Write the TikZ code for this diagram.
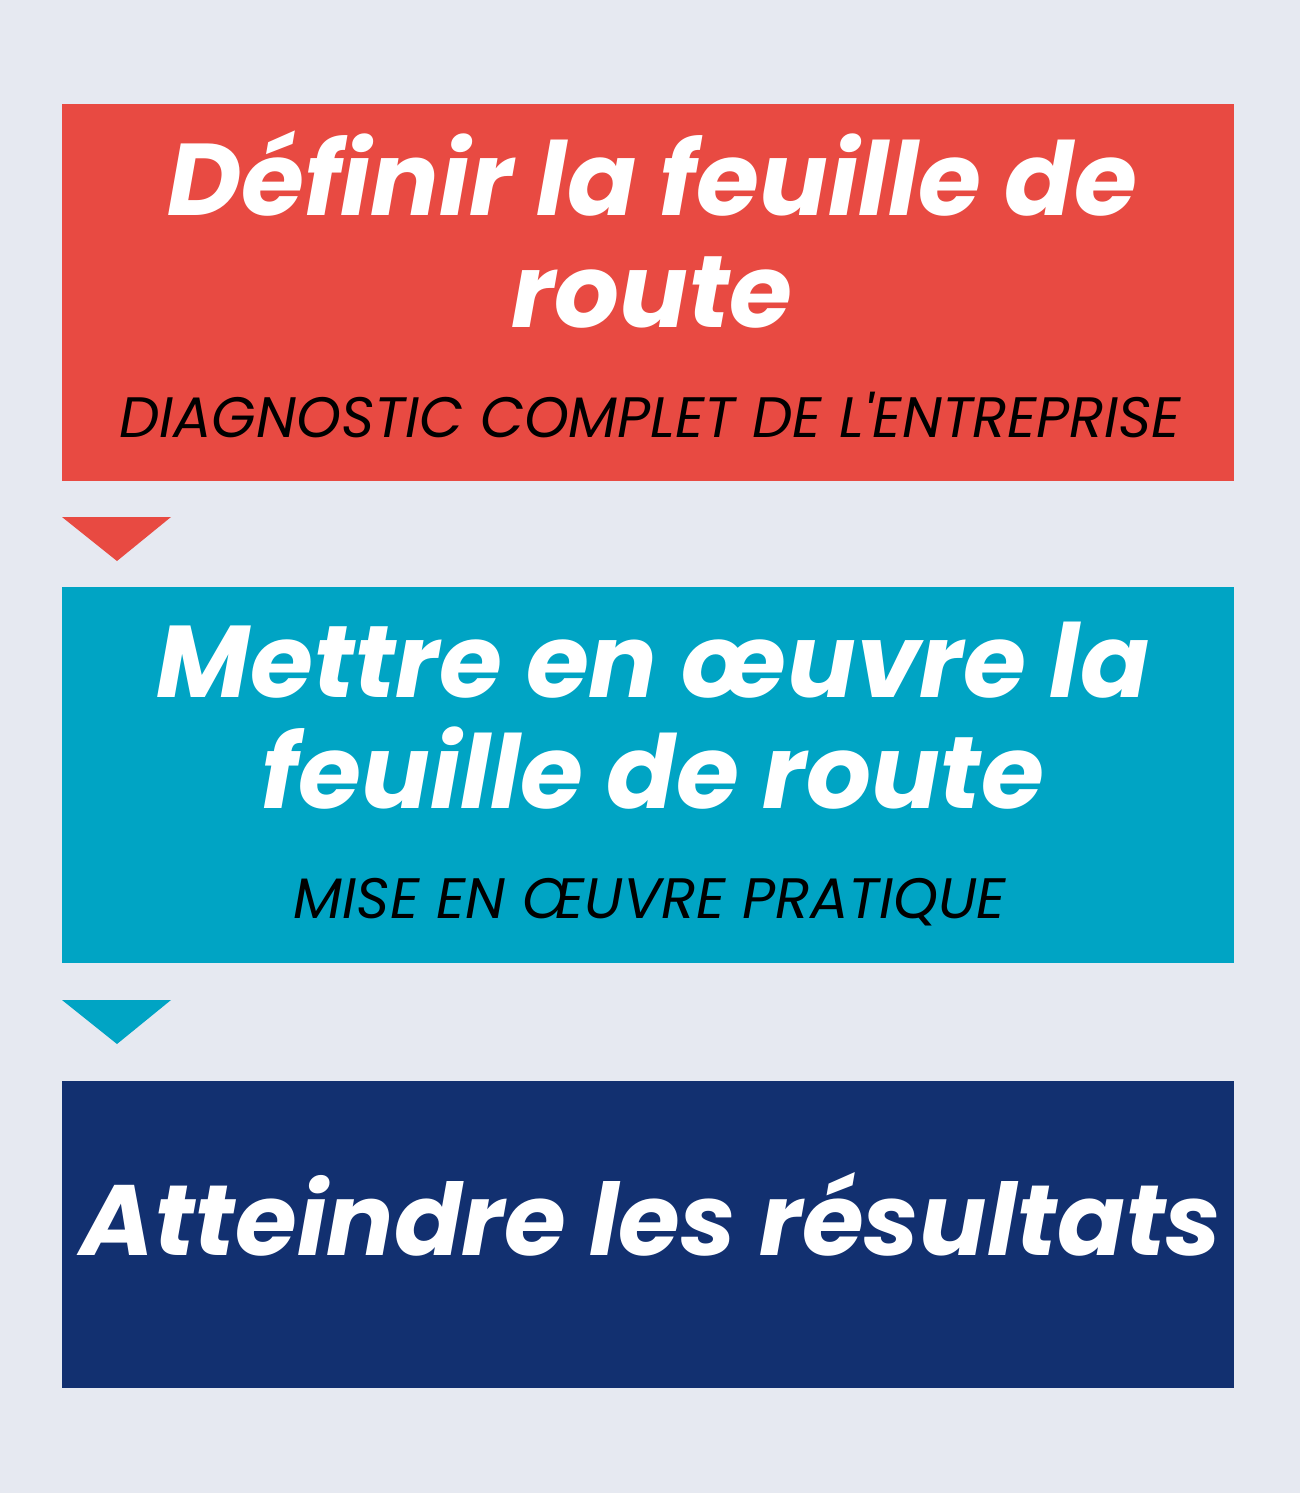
\documentclass[tikz,border=0pt]{standalone}
\usepackage{fontspec}
\setmainfont{Poppins}
\definecolor{bg}{HTML}{E6E9F1}
\definecolor{cred}{HTML}{E84A42}
\definecolor{cteal}{HTML}{00A4C4}
\definecolor{cnavy}{HTML}{123070}
\tikzset{
  title/.style={text=white, font=\fontsize{102}{110}\selectfont\bfseries\itshape, anchor=base, inner sep=0pt},
  subtitle/.style={text=black, font=\fontsize{57}{60}\selectfont\itshape, anchor=base, inner sep=0pt},
}
\begin{document}
\begin{tikzpicture}[x=1pt,y=-1pt]
\fill[bg] (0,0) rectangle (1300,1493);
\useasboundingbox (0,0) rectangle (1300,1493);
% boxes
\fill[cred] (62,104) rectangle (1234,481);
\fill[cteal] (62,587) rectangle (1234,963);
\fill[cnavy] (62,1081) rectangle (1234,1388);
% triangles
\fill[cred] (62,517) -- (171,517) -- (117,561) -- cycle;
\fill[cteal] (62,1000) -- (171,1000) -- (117,1044) -- cycle;
% texts
\node[title] (t1a) at (652,215) {Définir la feuille de};
\node[title] (t1b) at (652,327) {route};
\node[subtitle] (s1) at (650,437) {DIAGNOSTIC COMPLET DE L\textquotesingle ENTREPRISE};
\node[title] (t2a) at (653,697) {Mettre en œuvre la};
\node[title] (t2b) at (653,808) {feuille de route};
\node[subtitle] (s2) at (650,918) {MISE EN ŒUVRE PRATIQUE};
\node[title, font=\fontsize{100}{110}\selectfont\bfseries\itshape] (t3) at (651,1255) {Atteindre les résultats};
\end{tikzpicture}
\end{document}
